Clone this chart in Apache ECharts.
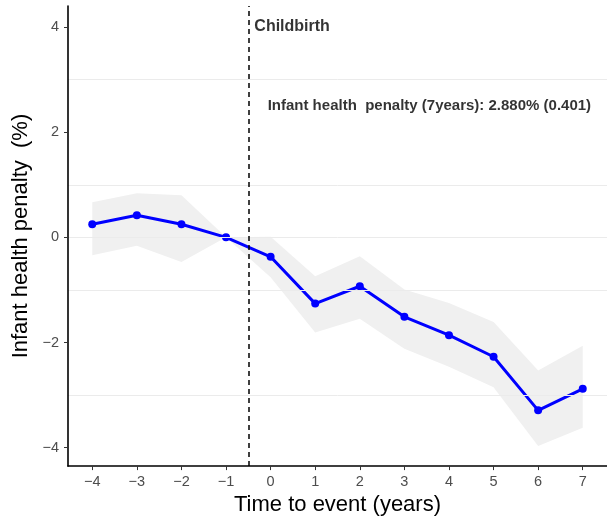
<!DOCTYPE html>
<html>
<head>
<meta charset="utf-8">
<script src="https://cdn.jsdelivr.net/npm/echarts@6/dist/echarts.min.js"></script>
<style>
  html, body { margin: 0; padding: 0; background: #ffffff; }
  #chart { width: 607px; height: 521px; }
</style>
</head>
<body>
<div id="chart"></div>
<script>
// Event-study estimates: years relative to childbirth
const years = [-4, -3, -2, -1, 0, 1, 2, 3, 4, 5, 6, 7];
const penalty = [0.25, 0.42, 0.25, 0, -0.37, -1.26, -0.93, -1.51, -1.86, -2.27, -3.29, -2.88];
const ciLower = [-0.34, -0.16, -0.47, 0, -0.76, -1.81, -1.55, -2.12, -2.46, -2.85, -3.97, -3.62];
const ciUpper = [0.67, 0.84, 0.80, 0, 0.01, -0.74, -0.36, -0.99, -1.25, -1.61, -2.53, -2.06];

// Axis ticks and horizontal reference lines
const xTicks = [-4, -3, -2, -1, 0, 1, 2, 3, 4, 5, 6, 7];
const yTicks = [-4, -2, 0, 2, 4];
const gridLevels = [-3, -1, 0, 1, 3];

// Annotations
const eventTime = -0.5;
const eventLabel = 'Childbirth';
const summaryLabel = 'Infant health  penalty (7years): 2.880% (0.401)';
const eventLabelAt = [eventTime, 4];
const summaryLabelAt = [3.56, 2.5];

const FONT = '"Liberation Sans", Arial, Helvetica, sans-serif';
const minus = v => String(v).replace('-', '\u2212');

const chart = echarts.init(document.getElementById('chart'), null, { renderer: 'canvas' });

const points = years.map((x, i) => [x, penalty[i]]);
const band = years.map((x, i) => [x, ciLower[i], ciUpper[i]]);

chart.setOption({
  animation: false,
  backgroundColor: '#ffffff',
  grid: { left: 68, right: -1, top: 6, bottom: 54, containLabel: false },
  xAxis: {
    type: 'value',
    z: 10,
    min: -4.544,
    max: 7.544,
    name: 'Time to event (years)',
    nameLocation: 'middle',
    nameGap: 26,
    nameTextStyle: { fontFamily: FONT, fontSize: 22, color: '#000000' },
    axisLine: { show: true, onZero: false, lineStyle: { color: '#000000', width: 1.6 } },
    axisTick: { show: true, length: 4, customValues: xTicks, lineStyle: { color: '#333333', width: 1 } },
    axisLabel: {
      customValues: xTicks,
      margin: 8,
      fontFamily: FONT,
      fontSize: 14.5,
      color: '#4d4d4d',
      formatter: minus
    },
    splitLine: { show: false }
  },
  yAxis: {
    type: 'value',
    z: 10,
    min: -4.35,
    max: 4.40,
    name: 'Infant health penalty  (%)',
    nameLocation: 'middle',
    nameGap: 29,
    nameTextStyle: { fontFamily: FONT, fontSize: 22, color: '#000000' },
    axisLine: { show: true, onZero: false, lineStyle: { color: '#000000', width: 1.6 } },
    axisTick: { show: true, length: 4, customValues: yTicks, lineStyle: { color: '#333333', width: 1 } },
    axisLabel: {
      customValues: yTicks,
      margin: 9,
      fontFamily: FONT,
      fontSize: 14.5,
      color: '#4d4d4d',
      formatter: minus
    },
    splitLine: { show: false }
  },
  series: [
    {
      // light horizontal reference lines
      type: 'line',
      data: [],
      z: 1,
      silent: true,
      markLine: {
        silent: true,
        symbol: 'none',
        label: { show: false },
        lineStyle: { color: '#ebebeb', width: 1, type: 'solid' },
        data: gridLevels.map(v => ({ yAxis: v }))
      }
    },
    {
      // confidence band
      type: 'custom',
      z: 2,
      silent: true,
      data: [0],
      renderItem: function (params, api) {
        const upper = band.map(d => api.coord([d[0], d[2]]));
        const lower = band.slice().reverse().map(d => api.coord([d[0], d[1]]));
        return {
          type: 'polygon',
          shape: { points: upper.concat(lower) },
          style: { fill: '#f0f0f0', stroke: 'none' }
        };
      }
    },
    {
      type: 'line',
      z: 4,
      data: points,
      symbol: 'circle',
      symbolSize: 8,
      showSymbol: true,
      lineStyle: { color: '#0000ff', width: 3 },
      itemStyle: { color: '#0000ff' },
      markLine: {
        silent: true,
        symbol: 'none',
        label: { show: false },
        lineStyle: { color: '#000000', width: 1.5, type: [5, 4] },
        data: [{ xAxis: eventTime }]
      }
    },
    {
      // text annotations
      type: 'scatter',
      z: 5,
      silent: true,
      symbolSize: 0,
      data: [
        { value: eventLabelAt, name: eventLabel,
          label: { show: true, position: 'right', distance: 6, formatter: eventLabel,
                   fontFamily: FONT, fontSize: 16, fontWeight: 'bold', color: '#000000' } },
        { value: summaryLabelAt, name: summaryLabel,
          label: { show: true, position: 'inside', formatter: summaryLabel,
                   fontFamily: FONT, fontSize: 15, fontWeight: 'bold', color: '#000000' } }
      ]
    }
  ]
});
</script>
</body>
</html>
